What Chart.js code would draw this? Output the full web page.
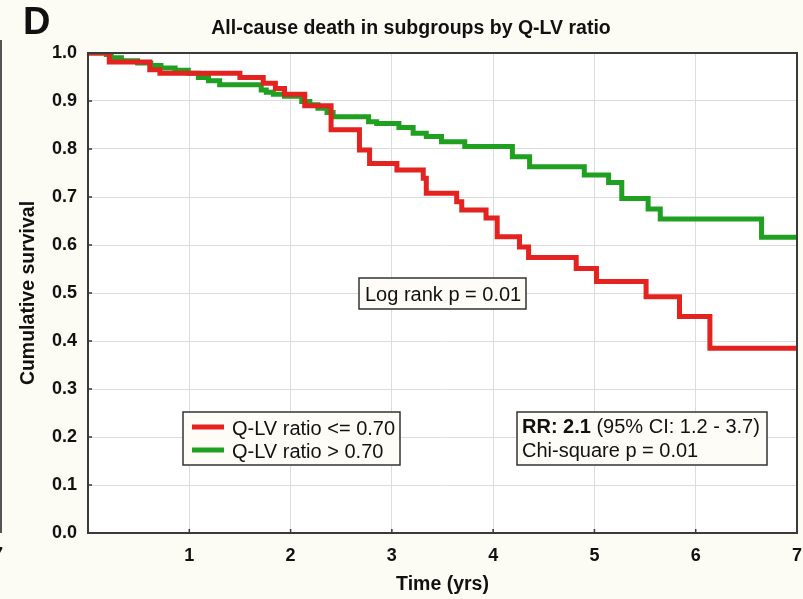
<!DOCTYPE html>
<html>
<head>
<meta charset="utf-8">
<script src="https://cdn.jsdelivr.net/npm/chart.js@4.4.1/dist/chart.umd.min.js"></script>
<style>
  html, body { margin: 0; padding: 0; background: #fcfbf4; }
  #wrap { width: 803px; height: 599px; }
</style>
</head>
<body>
<div id="wrap"><canvas id="chart" width="803" height="599"></canvas></div>
<script>
// Kaplan-Meier steps: time of drop (yrs) and survival after it
const lowTimes = [0, 0.21, 0.61, 0.71, 1.50, 1.73, 1.85, 1.94, 2.14, 2.40, 2.68, 2.78, 3.05, 3.31, 3.34,
  3.64, 3.69, 3.93, 4.04, 4.26, 4.35, 4.82, 5.02, 5.51, 5.84, 6.14, 7.0];
const lowSurv = [1.0, 0.981, 0.965, 0.958, 0.949, 0.937, 0.926, 0.914, 0.890, 0.840, 0.798, 0.770, 0.756, 0.739, 0.708,
  0.690, 0.673, 0.656, 0.617, 0.596, 0.574, 0.551, 0.524, 0.492, 0.451, 0.385, 0.385];

const highTimes = [0, 0.18, 0.23, 0.33, 0.49, 0.62, 0.72, 0.86, 0.99, 1.09, 1.19, 1.30, 1.71, 1.76, 1.83, 1.94,
  2.11, 2.19, 2.27, 2.36, 2.42, 2.77, 2.85, 3.07, 3.21, 3.34, 3.49, 3.72, 4.19, 4.36, 4.90, 5.14, 5.27,
  5.53, 5.65, 6.65, 7.0];
const highSurv = [1.0, 0.997, 0.990, 0.984, 0.979, 0.974, 0.969, 0.964, 0.958, 0.949, 0.942, 0.934, 0.923, 0.918, 0.914, 0.910,
  0.899, 0.892, 0.885, 0.876, 0.867, 0.857, 0.853, 0.845, 0.833, 0.826, 0.815, 0.805, 0.784, 0.763, 0.746, 0.730, 0.697,
  0.675, 0.654, 0.616, 0.616];

const seriesLabels = ["Q-LV ratio <= 0.70", "Q-LV ratio > 0.70"];
const seriesColors = ["#e2231f", "#20a020"];
const xTicks = [0, 1, 2, 3, 4, 5, 6, 7];
const yTicks = [0, 0.1, 0.2, 0.3, 0.4, 0.5, 0.6, 0.7, 0.8, 0.9, 1.0];

const panelLetter = "D";
const chartTitle = "All-cause death in subgroups by Q-LV ratio";
const logRankText = "Log rank p = 0.01";
const rrBold = "RR: 2.1";
const rrRest = " (95% CI: 1.2 - 3.7)";
const chiText = "Chi-square p = 0.01";

const FONT = "'Liberation Sans', Arial, Helvetica, sans-serif";

function toPoints(xs, ys) {
  return xs.map((x, i) => ({ x, y: ys[i] }));
}

function box(ctx, x, y, w, h) {
  ctx.fillStyle = "#fdfcf6";
  ctx.fillRect(x, y, w, h);
  ctx.strokeStyle = "#333";
  ctx.lineWidth = 1.5;
  ctx.strokeRect(x, y, w, h);
}

const framePlugin = {
  id: "frame",
  beforeDraw(chart) {
    const { ctx, chartArea: a } = chart;
    ctx.save();
    ctx.fillStyle = "#fcfbf4";
    ctx.fillRect(0, 0, chart.width, chart.height);
    ctx.fillStyle = "#ffffff";
    ctx.fillRect(a.left, a.top, a.right - a.left, a.bottom - a.top);
    ctx.restore();
  },
  afterDatasetsDraw(chart) {
    const { ctx, chartArea: a, scales } = chart;
    ctx.save();
    ctx.strokeStyle = "#3a3a3a";
    ctx.lineWidth = 2;
    ctx.strokeRect(a.left, a.top, a.right - a.left, a.bottom - a.top);
    // small inward tick marks
    ctx.lineWidth = 1.5;
    ctx.beginPath();
    xTicks.forEach((v) => {
      const px = scales.x.getPixelForValue(v);
      ctx.moveTo(px, a.bottom);
      ctx.lineTo(px, a.bottom - 4);
    });
    yTicks.forEach((v) => {
      const py = scales.y.getPixelForValue(v);
      ctx.moveTo(a.left, py);
      ctx.lineTo(a.left + 4, py);
    });
    ctx.stroke();
    // edge of the neighbouring panel
    ctx.strokeStyle = "#555";
    ctx.lineWidth = 2;
    ctx.beginPath();
    ctx.moveTo(1, 40);
    ctx.lineTo(1, a.bottom);
    ctx.stroke();
    ctx.restore();
  },
  afterDraw(chart) {
    const { ctx } = chart;
    ctx.save();
    ctx.fillStyle = "#111";
    ctx.textBaseline = "alphabetic";
    ctx.font = `bold 38px ${FONT}`;
    ctx.fillText(panelLetter, 23, 34);
    ctx.font = `bold 19.5px ${FONT}`;
    ctx.textAlign = "center";
    ctx.fillText(chartTitle, 411, 34);
    ctx.font = `bold 18px ${FONT}`;
    ctx.fillText("7", -2, 560);
    ctx.textAlign = "left";

    // log rank box
    box(ctx, 359, 278, 167, 31);
    ctx.fillStyle = "#111";
    ctx.font = `20px ${FONT}`;
    ctx.fillText(logRankText, 365, 301);

    // legend
    box(ctx, 183, 412, 217, 53);
    seriesLabels.forEach((label, i) => {
      const y = 427 + i * 23;
      ctx.strokeStyle = seriesColors[i];
      ctx.lineWidth = 5;
      ctx.beginPath();
      ctx.moveTo(192, y);
      ctx.lineTo(224, y);
      ctx.stroke();
      ctx.fillStyle = "#111";
      ctx.font = `20px ${FONT}`;
      ctx.fillText(label, 232, y + 8);
    });

    // RR box
    box(ctx, 517, 412, 250, 53);
    ctx.fillStyle = "#111";
    ctx.font = `bold 20px ${FONT}`;
    ctx.fillText(rrBold, 522, 433);
    const w = ctx.measureText(rrBold).width;
    ctx.font = `20px ${FONT}`;
    ctx.fillText(rrRest, 522 + w, 433);
    ctx.fillText(chiText, 522, 457);
    ctx.restore();
  },
};

new Chart(document.getElementById("chart"), {
  type: "line",
  data: {
    datasets: [
      { label: seriesLabels[0], data: toPoints(lowTimes, lowSurv), borderColor: seriesColors[0] },
      { label: seriesLabels[1], data: toPoints(highTimes, highSurv), borderColor: seriesColors[1] },
    ].map((d) => ({ ...d, stepped: "before", borderWidth: 5, pointRadius: 0, fill: false, clip: 0 })),
  },
  options: {
    responsive: false,
    animation: false,
    events: [],
    layout: { padding: { left: 0, right: 6, top: 53, bottom: 0 } },
    plugins: { legend: { display: false }, tooltip: { enabled: false } },
    scales: {
      x: {
        type: "linear",
        min: 0,
        max: 7,
        afterBuildTicks: (s) => { s.ticks = xTicks.map((v) => ({ value: v })); },
        afterFit: (s) => { s.height = 66; s.paddingLeft = 0; s.paddingRight = 0; },
        ticks: {
          padding: 12,
          color: "#111",
          font: { family: FONT, size: 18, weight: "bold" },
          callback: (v) => (v === 0 ? "" : String(v)),
        },
        grid: { color: "#dcdcdc", lineWidth: 1, drawTicks: false },
        border: { display: false },
        title: {
          display: true,
          text: "Time (yrs)",
          color: "#111",
          font: { family: FONT, size: 19.5, weight: "bold" },
          padding: { top: 0, bottom: 3 },
        },
      },
      y: {
        min: 0,
        max: 1,
        afterBuildTicks: (s) => { s.ticks = yTicks.map((v) => ({ value: v })); },
        afterFit: (s) => { s.width = 88; s.paddingTop = 0; s.paddingBottom = 0; },
        ticks: {
          padding: 11,
          color: "#111",
          font: { family: FONT, size: 18, weight: "bold" },
          callback: (v) => Number(v).toFixed(1),
        },
        grid: { color: "#dcdcdc", lineWidth: 1, drawTicks: false },
        border: { display: false },
        title: {
          display: true,
          text: "Cumulative survival",
          color: "#111",
          font: { family: FONT, size: 19.5, weight: "bold" },
          padding: { top: 17, bottom: 0 },
        },
      },
    },
  },
  plugins: [framePlugin],
});
</script>
</body>
</html>
